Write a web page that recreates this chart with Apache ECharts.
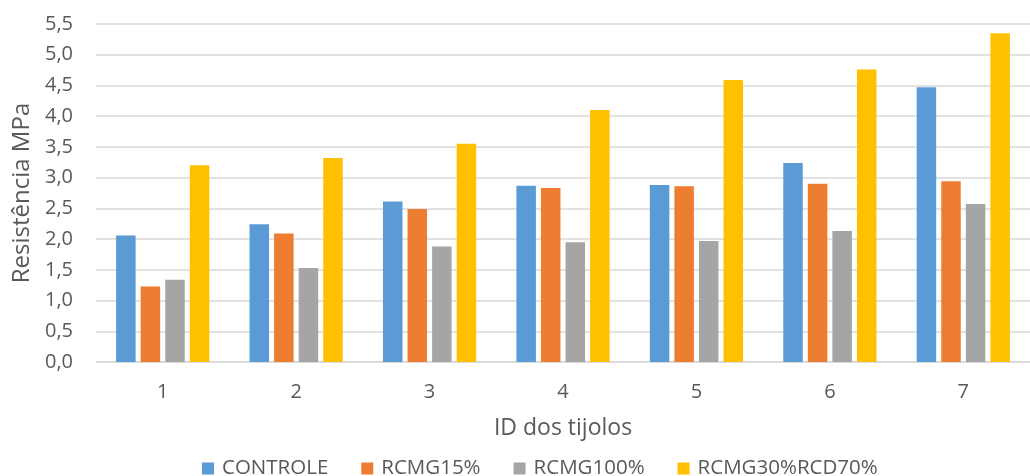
<!DOCTYPE html>
<html>
<head>
<meta charset="utf-8">
<script src="https://cdn.jsdelivr.net/npm/echarts@6/dist/echarts.min.js"></script>
<style>
  html, body { margin: 0; padding: 0; background: #ffffff; }
  #chart { width: 1030px; height: 476px; }
</style>
</head>
<body>
<div id="chart"></div>
<script>
// Compressive strength of bricks (MPa) per brick ID and mix
const categories = ['1', '2', '3', '4', '5', '6', '7'];
const controle = [2.06, 2.24, 2.61, 2.87, 2.88, 3.24, 4.47];
const rcmg15 = [1.23, 2.09, 2.49, 2.83, 2.86, 2.90, 2.94];
const rcmg100 = [1.34, 1.53, 1.88, 1.95, 1.97, 2.13, 2.57];
const rcmg30rcd70 = [3.20, 3.32, 3.55, 4.10, 4.59, 4.76, 5.35];
const seriesNames = ['CONTROLE', 'RCMG15%', 'RCMG100%', 'RCMG30%RCD70%'];
const colors = ['#5b9bd5', '#ed7d31', '#a5a5a5', '#ffc000'];

const FONT = 'Open Sans';
const TEXT = '#595959';

const chart = echarts.init(document.getElementById('chart'));
const values = [controle, rcmg15, rcmg100, rcmg30rcd70];

chart.setOption({
  animation: false,
  color: colors,
  textStyle: { fontFamily: FONT },
  grid: { left: 96, right: -11, top: 24, bottom: 114, containLabel: false },
  legend: {
    bottom: -8,
    left: 197,
    icon: 'rect',
    itemWidth: 12,
    itemHeight: 12,
    itemGap: 33,
    textStyle: { fontFamily: FONT, fontSize: 20.5, color: TEXT, padding: [0, 0, 0, 3] },
    data: seriesNames
  },
  xAxis: {
    type: 'category',
    data: categories,
    name: 'ID dos tijolos',
    nameLocation: 'middle',
    nameGap: 55,
    nameTextStyle: { fontFamily: FONT, fontSize: 23, color: TEXT },
    axisLine: { lineStyle: { color: '#d9d9d9', width: 1.5 } },
    axisTick: { show: false },
    axisLabel: { fontFamily: FONT, fontSize: 20, color: TEXT, margin: 20 }
  },
  yAxis: {
    type: 'value',
    min: 0,
    max: 5.5,
    interval: 0.5,
    name: 'Resistência MPa',
    nameLocation: 'middle',
    nameGap: 62,
    nameTextStyle: { fontFamily: FONT, fontSize: 24, color: TEXT },
    axisLine: { show: false },
    axisTick: { show: false },
    splitLine: { lineStyle: { color: '#d9d9d9', width: 1.5 } },
    axisLabel: {
      fontFamily: FONT, fontSize: 20, color: TEXT, margin: 23,
      formatter: v => v.toFixed(1).replace('.', ',')
    }
  },
  series: values.map((d, i) => ({
    name: seriesNames[i],
    type: 'bar',
    data: d,
    barWidth: 19.5,
    barGap: '26%',
    itemStyle: { color: colors[i] }
  }))
});
</script>
</body>
</html>
